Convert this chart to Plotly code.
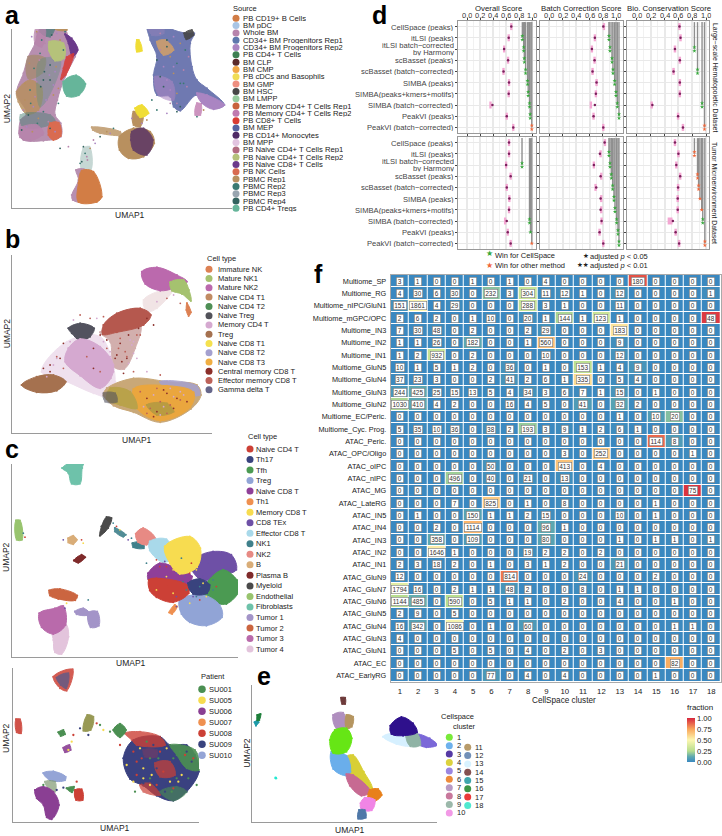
import plotly.graph_objects as go

W, H = 722, 836
FONT = "Liberation Sans"

# ---------- panel a ----------
A_LEGEND = ["PB CD19+ B Cells","BM pDC","Whole BM","CD34+ BM Progenitors Rep1","CD34+ BM Progenitors Rep2","PB CD4+ T Cells","BM CLP","BM CMP","PB cDCs and Basophils","BM GMP","BM HSC","BM LMPP","PB Memory CD4+ T Cells Rep1","PB Memory CD4+ T Cells Rep2","PB CD8+ T Cells","BM MEP","PB CD14+ Monocytes","BM MPP","PB Naive CD4+ T Cells Rep1","PB Naive CD4+ T Cells Rep2","PB Naive CD8+ T Cells","PB NK Cells","PBMC Rep1","PBMC Rep2","PBMC Rep3","PBMC Rep4","PB CD4+ Tregs"]
A_COLORS = ["#d27d45","#a9c5e4","#b784ac","#5e78ad","#aa85c2","#3e7f52","#5b2a2a","#f0a646","#f0dd55","#ee8f80","#474747","#96cb9d","#c8623c","#c07ab0","#d93b33","#56619f","#4f2a66","#e2c4e0","#b26b80","#b5c27a","#6b3a8a","#d96b50","#b8905f","#3a7a72","#98a5b0","#33635f","#66b59a"]
A_BODY = [(112,100),(130,70),(160,55),(195,70),(200,100),(232,145),(225,170),(195,230),(172,300),(165,345),(182,370),(182,410),(130,422),(70,420),(58,400),(62,360),(80,340),(50,280),(70,220),(85,170),(105,130)]
A_TAN1 = [(50,275),(90,240),(125,265),(115,330),(80,342),(55,305)]
A_TAN2 = [(85,170),(135,175),(125,220),(85,235)]
A_TAN3 = [(155,52),(192,60),(200,90),(160,85)]
A_TEAL1 = [(135,62),(165,72),(150,110),(120,95)]
A_TEAL2 = [(62,345),(150,345),(165,365),(100,385),(65,375)]
A_TEAL3 = [(120,180),(180,180),(140,300),(120,320),(110,250)]
A_MAUVE = [(110,80),(135,85),(125,140),(105,130)]
A_PALE = [(148,125),(190,130),(192,175),(165,182),(147,152)]
A_CD8N = [(195,103),(215,115),(233,150),(217,170),(205,130)]
A_CD8R = [(200,172),(220,162),(197,225),(183,238),(190,205)]
A_TREG = [(190,245),(228,226),(256,252),(236,286),(200,288)]
A_MEM = [(150,370),(176,368),(182,408),(160,420),(145,405)]
A_MAUVE2 = [(60,385),(110,375),(130,400),(90,422),(60,412)]
A_CD34 = [(440,60),(480,55),(510,85),(560,100),(582,100),(570,130),(575,200),(590,240),(620,265),(672,315),(640,325),(590,285),(540,332),(520,320),(510,290),(470,285),(460,225),(470,170),(450,120)]
A_CD34P = [(590,280),(620,285),(672,315),(640,328),(605,310)]
A_CD34Q = [(465,230),(515,245),(520,300),(475,285)]
A_CD34R = [(440,62),(480,58),(490,100),(455,105)]
A_CMP = [(470,125),(495,120),(520,150),(490,165)]
A_HSC = [(552,100),(575,90),(580,105),(558,118)]
A_MPP = [(590,310),(602,312),(600,345),(585,345)]
A_YEL1 = [(348,14),(356,16),(370,62),(358,50)]
A_YEL2 = [(410,120),(416,120),(425,152),(410,155)]
A_YEL3 = [(405,325),(425,315),(445,340),(420,352)]
A_TAN4 = [(400,335),(428,345),(420,380),(400,375)]
A_STREAM = [(275,382),(360,395),(365,405),(300,400),(278,390)]
A_MONO = [(358,410),(400,385),(450,395),(462,430),(430,470),(385,475),(358,450)]
A_MONO2 = [(395,395),(430,385),(458,420),(440,465),(400,450),(392,420)]
A_BCELL = [(245,512),(280,515),(305,590),(290,606),(235,606),(235,550)]
A_BMAUVE = [(228,510),(258,510),(240,605),(218,600),(215,585),(235,540)]
A_BRIDGE = [(250,445),(268,440),(272,510),(245,510)]
A_STRAY_X = [240,260,300,330,270,255,262,245,285,320,340,280,250,395,440,470,510,530,425,400,455,205,180,500,610,590,530,540,
             95,110,125,140,155,170,88,102,118,133,148,75,90,105,122,138,160,175,70,85,100,115,130,145,65,80,97,112,128,150,165,75,92,110,130,148,168,120,135,150,165,180,195,140,150,160,175,190,
             480,500,520,540,555,565,470,490,510,530,550,480,500,520,540,560,490,510,530,550,480,500,520]
A_STRAY_Y = [490,470,410,400,445,460,480,485,430,395,385,420,440,355,360,330,310,335,370,385,300,440,445,340,330,350,310,320,
             110,95,120,85,105,100,190,205,180,215,195,250,270,290,260,300,285,310,330,345,320,355,335,365,390,380,395,370,405,385,395,300,310,245,240,225,200,160,130,195,215,120,95,70,240,255,265,150,
             100,120,110,130,150,170,180,200,170,190,210,230,240,220,250,260,260,270,280,250,150,140,200]
A_LAYERS = [(A_BODY,"#b78fb0",1),(A_TAN1,"#b8905f",.85),(A_TAN2,"#a58a6d",.75),(A_TAN3,"#b8905f",1),(A_TEAL1,"#3a7a72",.65),(A_TEAL2,"#4f8278",.5),(A_TEAL3,"#5d8f85",.4),(A_MAUVE,"#b784ac",.8),(A_MAUVE2,"#b784ac",.9),(A_PALE,"#b5c27a",1),(A_CD8N,"#6b3a8a",1),(A_CD8R,"#d93b33",.85),(A_TREG,"#66b59a",1),(A_MEM,"#d96b50",1),
            (A_CD34,"#6f79b1",1),(A_CD34P,"#aa85c2",1),(A_CD34Q,"#aa85c2",.6),(A_CD34R,"#8b80b8",.7),(A_CMP,"#e8a95a",.7),(A_HSC,"#474747",.9),(A_MPP,"#c07ab0",.8),(A_YEL1,"#f0dd35",1),(A_YEL2,"#f0dd35",1),(A_TAN4,"#b8905f",1),(A_YEL3,"#f0dd35",1),(A_STREAM,"#b8905f",.8),(A_BRIDGE,"#5d8f85",.35),(A_MONO,"#b8905f",1),(A_MONO2,"#4f2a66",.75),(A_BMAUVE,"#b78fb0",1),(A_BCELL,"#d27d45",1)]

# ---------- panel b ----------
B_LEGEND = ["Immature NK","Mature NK1","Mature NK2","Naive CD4 T1","Naive CD4 T2","Naive Treg","Memory CD4 T","Treg","Naive CD8 T1","Naive CD8 T2","Naive CD8 T3","Central memory CD8 T","Effector memory CD8 T","Gamma delta T"]
B_COLORS = ["#dd8153","#a5c26f","#bb69ad","#c18b63","#4e8f55","#52525a","#d5a9d0","#a5714f","#f5e14e","#a4a0cf","#f0ae42","#8b2f2a","#bc6158","#66668a"]
B_NK2 = [(425,140),(470,127),(530,150),(560,170),(520,190),(480,197),(435,177)]
B_NK1 = [(510,172),(550,165),(566,195),(572,228),(545,207),(515,197)]
B_NKI = [(560,235),(572,262),(565,273),(558,255)]
B_DIFF0 = [(480,197),(520,190),(470,250),(440,260),(430,225)]
B_EM = [(310,300),(350,265),(420,250),(452,270),(430,300),(350,322),(308,328)]
B_CM = [(300,322),(420,300),(405,370),(372,432),(340,425),(330,350)]
B_TREGN = [(205,310),(240,295),(282,310),(270,335),(240,347),(215,325)]
B_DIFF1 = [(125,440),(200,350),(300,335),(345,470),(325,515),(280,505),(200,470)]
B_MEM = [(205,370),(240,342),(300,365),(340,420),(332,460),(300,490),(240,452),(195,410)]
B_TREG = [(65,480),(110,455),(160,450),(197,470),(170,497),(110,502)]
B_CD8 = [(320,490),(400,460),(500,470),(590,480),(602,510),(572,552),(480,592),(400,562),(340,542),(310,510)]
B_CD8O = [(400,492),(500,482),(580,502),(570,547),(480,587),(412,552)]
B_CD8L = [(480,470),(590,483),(598,510),(560,510),(500,495)]
B_CD8Y = [(330,490),(390,500),(410,550),(360,540),(320,522)]
B_CD8D = [(310,505),(345,505),(350,530),(315,530)]
B_CD8G = [(440,540),(500,535),(520,560),(470,570)]
B_STRAY_X = [150,170,240,280,330,360,380,400,420,440,470,500,350,310,270,130,520,540,190,220,400,370,440,480,460,410,300,
             385,395,375,365,385,355,345,390,410,415,400,380,360,330,320,300,290,310,320,340,260,280,210,190,180,160,170,150,140,
             420,440,460,480,500,520,540,560,430,450,470,490,510,530,550,440,460,480,500,520,540,470,490,510]
B_STRAY_Y = [420,400,270,370,380,340,400,350,330,280,230,220,390,350,280,430,210,235,355,285,440,445,440,450,300,400,440,
             330,360,380,410,415,370,400,345,330,310,385,395,355,395,370,330,280,275,345,440,395,430,350,430,400,420,395,440,455,
             500,520,510,530,505,515,525,530,545,550,560,545,540,520,510,565,575,570,565,550,500,490,495,490]
B_LAYERS = [(B_DIFF0,"#a8505a",.15),(B_CM,"#8b2f2a",.38),(B_DIFF1,"#e0c2de",.5),(B_NK2,"#bb69ad",1),(B_NK1,"#a5c26f",1),(B_NKI,"#dd8153",1),(B_EM,"#b5584e",1),(B_TREGN,"#52525e",1),(B_MEM,"#d5a9d0",1),(B_TREG,"#a5714f",1),(B_CD8,"#c9a878",1),(B_CD8L,"#a4a0cf",.85),(B_CD8O,"#eaa63e",1),(B_CD8Y,"#b9a24a",1),(B_CD8D,"#52525e",.6),(B_CD8G,"#9a9443",.6)]

# ---------- panel c ----------
C_LEGEND = ["Naive CD4 T","Th17","Tfh","Treg","Naive CD8 T","Th1","Memory CD8 T","CD8 TEx","Effector CD8 T","NK1","NK2","B","Plasma B","Myeloid","Endothelial","Fibroblasts","Tumor 1","Tumor 2","Tumor 3","Tumor 4"]
C_COLORS = ["#cc4036","#39437e","#4b9a52","#91a4d6","#8f3f98","#ef9050","#f7dc50","#6e50a6","#a9d9ea","#3f808b","#e78a84","#d9ad78","#7f2a2a","#4a4a4a","#98c46e","#6ec2aa","#a394c8","#cb6540","#b96aab","#e3c4dc"]
C_FIB = [(187,115),(255,85),(247,115),(240,162),(215,162),(205,130)]
C_END = [(48,272),(60,272),(66,330),(50,330)]
C_MYE = [(305,290),(320,262),(335,265),(325,295),(300,318)]
C_B = [(205,325),(220,318),(231,330),(220,343),(205,338)]
C_PLA = [(222,392),(245,375),(256,382),(235,399)]
C_NK1A = [(345,295),(378,315),(370,321),(345,305)]
C_NK1B = [(398,340),(430,338),(432,355),(400,352)]
C_NK2 = [(408,312),(430,295),(466,325),(440,345),(415,337)]
C_EFF = [(450,335),(500,328),(525,380),(490,397),(450,362)]
C_MEM = [(495,350),(570,320),(602,355),(592,412),(540,432),(510,400)]
C_TEX = [(590,385),(640,365),(695,375),(710,420),(660,437),(610,452),(580,425)]
C_NCD8 = [(445,430),(480,400),(540,420),(577,440),(560,467),(480,452),(445,447)]
C_NCD4 = [(447,450),(470,445),(562,465),(567,490),(520,517),(470,502),(450,482)]
C_TFH = [(620,460),(670,420),(712,450),(720,480),(680,522),(630,512),(610,490)]
C_TH17 = [(565,460),(600,447),(630,465),(622,490),(580,492)]
C_TREG = [(540,510),(610,495),(660,525),(667,562),(620,587),(570,577),(545,552)]
C_TH1 = [(525,525),(532,530),(517,552),(508,548)]
C_T2 = [(148,482),(180,477),(232,497),(226,511),(175,507),(150,497)]
C_T4 = [(155,590),(197,582),(206,620),(185,672),(165,667),(160,630)]
C_T3 = [(118,550),(165,535),(190,528),(197,585),(160,612),(125,592)]
C_T1A = [(225,545),(250,535),(268,548),(262,556),(230,553)]
C_T1B = [(265,548),(292,545),(297,587),(272,592)]
C_STRAY_X = [340,350,360,385,395,245,250,190,440,470,610,530,590,500,520,555,70,75,200,195,265,
             480,500,530,550,570,590,610,560,540,520,580,600,505,470,495,545,575,600,625,640,600,570,530,640,650,620]
C_STRAY_Y = [280,290,300,330,325,330,340,330,400,390,460,500,500,410,420,440,310,322,520,535,510,
             410,440,430,455,430,420,440,480,500,490,500,470,470,480,395,385,400,380,400,450,510,520,530,480,470,500]
C_LAYERS = [(C_FIB,"#6ec2aa",1),(C_END,"#98c46e",1),(C_MYE,"#4a4a4a",1),(C_B,"#d9ad78",1),(C_PLA,"#7f2a2a",1),(C_NK1A,"#3f808b",.9),(C_NK1B,"#3f808b",1),(C_NK2,"#e78a84",1),(C_EFF,"#a9d9ea",1),(C_TEX,"#6e50a6",1),(C_TFH,"#4b9a52",1),(C_TREG,"#91a4d6",1),(C_NCD8,"#8f3f98",1),(C_NCD4,"#cc4036",1),(C_MEM,"#f7dc50",1),(C_TH17,"#39437e",1),(C_TH1,"#ef9050",1),(C_T2,"#cb6540",1),(C_T4,"#e3c4dc",1),(C_T3,"#b96aab",1),(C_T1A,"#a394c8",1),(C_T1B,"#a394c8",1)]

# ---------- patient panel ----------
P_LEGEND = ["SU001","SU005","SU006","SU007","SU008","SU009","SU010"]
P_COLORS = ["#4b8f52","#f7dc50","#8a3f93","#ef9050","#cc4036","#39437e","#94a4d6"]
P_BIG = [(370,370),(400,315),(480,305),(510,330),(560,330),(585,360),(597,410),(560,470),(520,497),(470,482),(430,452),(390,432)]
P_RED1 = [(375,295),(420,290),(480,305),(495,330),(410,330),(395,315)]
P_RED2 = [(465,385),(510,380),(525,420),(480,425)]
P_RED3 = [(420,450),(450,445),(480,480),(430,470)]
P_RED4 = [(430,345),(470,345),(470,365),(435,365)]
P_GRN1 = [(510,330),(585,345),(597,405),(560,400),(530,360)]
P_GRN2 = [(480,470),(530,455),(560,470),(520,497)]
P_GRN3 = [(340,285),(360,266),(378,285),(360,307)]
P_TOP = [(160,125),(218,103),(200,167),(180,160)]
P_TOPB = [(170,128),(205,115),(198,160),(182,150)]
P_LEFT = [(48,253),(60,253),(63,295),(50,292)]
P_G4 = [(175,292),(190,285),(195,298),(182,303)]
P_M4 = [(190,338),(208,330),(212,345),(195,352)]
P_MIX = [(262,240),(280,245),(272,285),(250,287)]
P_L = [(130,414),(160,409),(197,425),(195,436),(150,436)]
P_PUR = [(105,465),(130,455),(160,470),(177,510),(155,553),(140,547),(130,510),(110,490)]
P_G5 = [(200,460),(222,455),(216,472)]
P_R5 = [(225,465),(245,463),(248,495),(228,495)]
P_G6 = [(135,440),(165,440),(165,470),(145,460)]
P_STRAY_X = [290,310,330,240,220,215,130,190,360,400,405,430,600,600,590,170,230,205,300,265,
             400,420,440,460,480,500,520,540,410,430,450,470,490,510,530,390,410,430,450,500,520,545,565,575,555,535,515,495,470,450,540,560,580,455,475,400,425,380]
P_STRAY_Y = [265,285,290,280,300,320,450,458,330,440,470,445,400,420,450,465,440,345,270,300,
             350,340,320,330,350,340,370,390,380,400,370,400,410,440,430,410,420,430,430,450,460,420,430,380,360,440,470,470,450,450,350,350,370,420,370,360,370,390]
P_LAYERS = [(P_BIG,"#3a4180",1),(P_GRN1,"#4b8f52",.9),(P_GRN2,"#4b8f52",.6),(P_RED1,"#cc4036",.8),(P_RED2,"#cc4036",.7),(P_RED3,"#cc4036",.7),(P_RED4,"#7f3a60",.55),(P_GRN3,"#4b8f52",1),(P_TOP,"#cc4036",.85),(P_TOPB,"#4d5a90",.7),(P_LEFT,"#cc4036",.9),(P_G4,"#4b8f52",1),(P_M4,"#8a3f93",.9),(P_MIX,"#8d8f43",.9),(P_L,"#94a4d6",1),(P_G6,"#7f9a72",.7),(P_PUR,"#8a3f93",1),(P_G5,"#4b8f52",1),(P_R5,"#cc4036",1)]

# ---------- panel e ----------
E_LEGEND = [str(i) for i in range(1,19)]
E_COLORS = ["#79ea3a","#6eb1ec","#563aa4","#dcd23e","#9b86e0","#ee8b3a","#b89ac4","#c8789c","#9bb8aa","#f29ae6","#b89b6a","#7290b8","#d8f2ff","#845050","#3fa6ad","#3d9547","#ea3a3a","#4fe8d0"]
E_C1 = [(1005,285),(1040,280),(1056,310),(1040,350),(1000,354),(990,315)]
E_C7 = [(1000,240),(1030,233),(1037,275),(1010,281)]
E_C11 = [(1040,240),(1060,245),(1056,275),(1040,281)]
E_C14 = [(1024,188),(1036,188),(1036,207),(1027,207)]
E_C2 = [(995,350),(1040,362),(1052,410),(1040,422),(1000,402)]
E_C4 = [(1040,365),(1060,360),(1092,410),(1117,460),(1100,467),(1060,430)]
E_C8 = [(1040,418),(1060,420),(1112,470),(1085,482),(1050,452)]
E_C6 = [(1110,465),(1135,462),(1146,480),(1125,498),(1105,485)]
E_C10 = [(1095,488),(1125,495),(1116,526),(1085,523),(1082,505)]
E_C12 = [(1078,525),(1095,525),(1098,548),(1075,551)]
E_C13 = [(1150,305),(1175,295),(1222,305),(1232,332),(1190,327)]
E_C9 = [(1220,305),(1250,293),(1262,330),(1232,334)]
E_C5 = [(1250,298),(1290,310),(1313,330),(1280,337),(1255,327)]
E_C3 = [(1172,272),(1205,246),(1240,265),(1252,292),(1210,302),(1175,297)]
E_C15 = [(764,262),(773,255),(776,262),(768,272)]
E_C16 = [(772,240),(782,237),(778,255),(772,256)]
E_C17_X, E_C17_Y = [878,879], [136,137]
E_C18_X, E_C18_Y = [827,828], [428,430]
E_LAYERS = [(E_C14,"#6e3b3b",1),(E_C7,"#b08fbf",1),(E_C11,"#b59560",1),(E_C4,"#d8cf35",1),(E_C2,"#6aaeeb",1),(E_C1,"#66e615",1),(E_C8,"#c76a92",1),(E_C6,"#e8801a",1),(E_C10,"#f085e5",1),(E_C12,"#4f78a8",1),(E_C13,"#d6f0ff",1),(E_C5,"#7b68d8",1),(E_C9,"#8fb3a5",1),(E_C3,"#2e108c",1),(E_C15,"#1e9aa8",1),(E_C16,"#1e7f3a",1)]

# ---------- panel d ----------
METHODS = ["CellSpace (peaks)","itLSI (peaks)","itLSI batch\u2212corrected|by Harmony","scBasset (peaks)","scBasset (batch\u2212corrected)","SIMBA (peaks)","SIMBA(peaks+kmers+motifs)","SIMBA (batch\u2212corrected)","PeakVI (peaks)","PeakVI (batch\u2212corrected)"]
D_COL_TITLES = ["Overall Score","Batch Correction Score","Bio. Conservation Score"]
D_TICKS = [0,0.2,0.4,0.6,0.8,1.0]
H_OVERALL = [.68,.64,.57,.63,.56,.645,.64,.39,.61,.71]
H_BATCH = [.805,.68,.635,.675,.645,.705,.695,.68,.66,.805]
H_BIO = [.615,.63,.55,.62,.53,.62,.62,.225,.595,.665]
T_OVERALL = [.645,.645,.60,.67,.61,.65,.645,.61,.625,.67]
T_BATCH = [.825,.755,.665,.765,.70,.765,.765,.78,.75,.805]
T_BIO = [.55,.60,.57,.625,.595,.59,.59,.52,.56,.61]
H_OVERALL_PINK = [.68,.64,.57,.63,.56,.645,.64,.36,.61,.71]
H_BATCH_PINK = [.815,.68,.635,.675,.645,.705,.695,.62,.66,.805]
H_BIO_PINK = [.615,.63,.55,.62,.53,.62,.62,.215,.595,.665]
T_OVERALL_PINK = [.645,.645,.60,.67,.61,.65,.645,.585,.625,.67]
T_BATCH_PINK = [.83,.765,.665,.775,.69,.775,.775,.78,.75,.805]
T_BIO_PINK = [.55,.60,.57,.625,.595,.59,.59,.48,.56,.61]
H_OVERALL_STAR = [None,.85,.87,.88,.90,.93,.94,.96,.97,.995]
H_BATCH_STAR = [None,.89,.905,.935,.95,.975,.995,1.015,1.04,None]
H_BIO_STAR = [None,None,.83,None,.875,None,None,.94,None,.975]
T_OVERALL_STAR = [None,None,.845,None,None,None,None,.96,.975,.995]
T_BATCH_STAR = [None,.89,.905,.925,.945,.965,.98,1.005,1.025,1.04]
T_BIO_STAR = [None,.83,None,.875,.89,.91,.935,.95,None,.98]
H_OVERALL_WIN = "xggggggggo"
H_BATCH_WIN = "xggggggggx"
H_BIO_WIN = "xxgxgxxgxo"
T_OVERALL_WIN = "xxgxxxxggo"
T_BATCH_WIN = "xggggggggg"
T_BIO_WIN = "xoxoooogxo"
T_OVERALL_N = [0,0,2,0,0,0,0,2,1,1]
T_BIO_N = [0,2,0,2,2,1,1,2,0,2]

# ---------- panel f ----------
HM_ROWS = ["Multiome_SP","Multiome_RG","Multiome_nIPC/GluN1","Multiome_mGPC/OPC","Multiome_IN3","Multiome_IN2","Multiome_IN1","Multiome_GluN5","Multiome_GluN4","Multiome_GluN3","Multiome_GluN2","Multiome_EC/Peric.","Multiome_Cyc. Prog.","ATAC_Peric.","ATAC_OPC/Oligo","ATAC_oIPC","ATAC_nIPC","ATAC_MG","ATAC_LateRG","ATAC_IN5","ATAC_IN4","ATAC_IN3","ATAC_IN2","ATAC_IN1","ATAC_GluN9","ATAC_GluN7","ATAC_GluN6","ATAC_GluN5","ATAC_GluN4","ATAC_GluN3","ATAC_GluN1","ATAC_EC","ATAC_EarlyRG"]
HM_COLS = list(range(1,19))
HM_COUNTS = [
[3,1,0,0,1,0,1,0,4,0,0,0,0,180,0,0,0,0],
[4,30,6,30,0,232,3,304,11,12,1,0,12,0,0,0,0,1],
[151,1861,4,29,0,0,0,288,3,1,0,0,11,0,0,0,0,0],
[2,6,2,0,1,10,0,20,1,144,1,123,1,0,0,0,0,48],
[7,30,48,0,2,0,0,2,29,0,0,0,183,0,0,0,0,0],
[1,1,26,0,182,0,0,1,560,0,0,0,9,0,0,0,0,0],
[1,2,932,0,2,0,0,0,10,0,0,0,12,0,0,0,0,0],
[10,1,5,1,2,0,36,0,1,0,153,1,4,9,0,0,0,0],
[37,23,3,0,0,2,41,2,6,1,335,0,5,4,0,0,0,0],
[244,425,25,15,13,5,4,34,3,6,7,1,15,0,1,0,0,0],
[1030,410,4,2,0,0,16,4,5,0,41,0,32,2,0,0,0,0],
[0,0,0,0,0,0,0,0,0,0,0,0,1,0,10,20,0,0],
[5,35,10,36,0,38,2,193,3,9,1,2,6,1,0,0,0,0],
[0,0,0,0,0,0,0,0,0,0,0,0,0,0,114,8,0,0],
[0,0,0,0,0,0,0,0,0,3,0,252,0,0,0,0,1,0],
[0,0,0,0,0,50,0,0,0,413,0,4,0,0,0,0,0,0],
[0,0,0,496,0,40,0,21,0,13,0,0,0,0,0,0,0,0],
[0,0,0,0,0,0,0,0,0,0,0,0,0,0,0,0,75,0],
[0,0,0,7,0,825,0,1,0,8,0,0,0,0,1,0,0,0],
[0,1,0,0,150,1,1,2,15,0,0,0,10,0,1,0,0,0],
[0,0,2,0,1114,0,0,0,96,1,0,0,0,0,0,0,0,0],
[0,0,358,0,109,0,0,0,80,0,0,0,1,0,1,1,0,1],
[0,0,1646,1,0,0,0,19,2,2,0,2,0,0,0,0,0,0],
[2,3,18,2,0,1,0,3,1,2,0,0,21,0,0,0,0,0],
[12,0,0,0,0,0,814,0,0,0,24,0,0,0,2,0,0,0],
[1794,16,0,2,1,1,48,2,0,0,8,0,1,1,0,0,0,0],
[1144,485,0,590,0,5,1,1,0,2,0,0,4,0,0,1,0,0],
[2,9,0,5,0,0,0,0,0,0,0,0,0,0,0,0,0,0],
[16,342,0,1086,0,1,0,60,0,0,0,0,0,0,0,1,1,0],
[4,0,0,0,0,0,0,0,0,0,0,0,0,0,0,0,0,0],
[0,0,0,5,0,5,0,4,0,2,0,3,0,0,0,0,0,0],
[0,0,0,0,0,0,0,0,0,0,0,0,0,0,0,82,0,0],
[0,0,0,0,0,77,0,4,0,4,0,0,0,0,1,0,0,0],
]
HM_SCALE = [[0,"#3a88c0"],[.12,"#5da8b0"],[.25,"#b6dd8e"],[.5,"#fdf7b0"],[.75,"#f9a65a"],[1,"#d7263d"]]

# ---------- helpers ----------
fig = go.Figure()
annots = []
ax_n = [0]

def X(p): return p / W
def Y(p): return 1 - p / H

def note(x, y, text, size=7.5, color="#222", xa="left", ya="middle", angle=0, font=FONT, bold=False, **kw):
    if bold: text = f"<b>{text}</b>"
    annots.append(dict(xref="paper", yref="paper", x=X(x), y=Y(y), text=text, showarrow=False, xanchor=xa, yanchor=ya, textangle=angle, font=dict(family=font, size=size, color=color), borderpad=0, **kw))

def new_axes(x0, x1, y0, y1, xrange, yrange, xkw=None, ykw=None):
    ax_n[0] += 1
    n = ax_n[0]
    s = "" if n == 1 else str(n)
    xd = dict(domain=[X(x0), X(x1)], range=xrange, anchor=f"y{s}", showgrid=False, zeroline=False, showticklabels=False, ticks="")
    yd = dict(domain=[Y(y1), Y(y0)], range=yrange, anchor=f"x{s}", showgrid=False, zeroline=False, showticklabels=False, ticks="")
    xd.update(xkw or {}); yd.update(ykw or {})
    fig.update_layout(**{f"xaxis{s}": xd, f"yaxis{s}": yd})
    return f"x{s}", f"y{s}"

SPINE = dict(showline=True, linecolor="#9a9a9a", linewidth=1.2)

def umap_panel(box, xr, yr, layers, stray=None, stray_colors=None, stray_size=1.8):
    xa, ya = new_axes(box[0], box[1], box[2], box[3], xr, yr, SPINE, SPINE)
    for pts, col, op in layers:
        xs = [p[0] for p in pts] + [pts[0][0]]
        ys = [p[1] for p in pts] + [pts[0][1]]
        fig.add_trace(go.Scatter(x=xs, y=ys, xaxis=xa, yaxis=ya, mode="lines+markers", fill="toself", fillcolor=col, opacity=op,
                                 line=dict(width=1, color=col, shape="spline", smoothing=1), marker=dict(size=2, color=col),
                                 cliponaxis=False, hoverinfo="skip", showlegend=False))
    if stray:
        fig.add_trace(go.Scatter(x=stray[0], y=stray[1], xaxis=xa, yaxis=ya, mode="markers", cliponaxis=False, hoverinfo="skip", showlegend=False,
                                 marker=dict(size=stray_size, color=[stray_colors[i % len(stray_colors)] for i in range(len(stray[0]))])))
    return xa, ya

# overlay axes in figure units for legend dots, drawn above every panel
OX, OY = "x60", "y60"
fig.update_layout(xaxis60=dict(domain=[0,1], range=[0,W], anchor="y60", visible=False), yaxis60=dict(domain=[0,1], range=[H,0], anchor="x60", visible=False))

def legend(labels, colors, dotx, textx, y0, step, size=7.5, msize=7):
    ys = [y0 + i * step for i in range(len(labels))]
    fig.add_trace(go.Scatter(x=[dotx]*len(labels), y=ys, xaxis=OX, yaxis=OY, mode="markers", marker=dict(size=msize, color=colors), hoverinfo="skip", showlegend=False))
    for l, y in zip(labels, ys):
        if step < 8:
            note(textx, y, l, size=size, height=max(step - 0.5, 5))
        else:
            note(textx, y, l, size=size)

# ---------- UMAP panels ----------
umap_panel((12, 232, 29, 208.3), [36, 695], [625, 87], A_LAYERS, (A_STRAY_X, A_STRAY_Y), ["#3a7a72","#b784ac","#33635f","#aa85c2","#b8905f"])
umap_panel((12, 212, 255, 433.3), [36, 635], [625, 90], B_LAYERS, (B_STRAY_X, B_STRAY_Y), ["#8b2f2a","#d5a9d0","#bc6158"])
umap_panel((12, 238, 464, 656.7), [36, 715], [680, 103], C_LAYERS, (C_STRAY_X, C_STRAY_Y), ["#3f808b","#cc4036","#f7dc50","#6e50a6"])
umap_panel((12.7, 199, 668.3, 821.7), [38, 597], [560, 100], P_LAYERS, (P_STRAY_X, P_STRAY_Y), ["#cc4036","#f7dc50","#4b8f52","#39437e"], stray_size=2.3)
xe, ye = umap_panel((252.3, 437, 685, 821.7), [757, 1312], [560, 150], E_LAYERS)
fig.add_trace(go.Scatter(x=E_C17_X, y=E_C17_Y, xaxis=xe, yaxis=ye, mode="markers", marker=dict(size=2.5, color="#ee1111"), cliponaxis=False, hoverinfo="skip", showlegend=False))
fig.add_trace(go.Scatter(x=E_C18_X, y=E_C18_Y, xaxis=xe, yaxis=ye, mode="markers", marker=dict(size=2.5, color="#22e8d0"), cliponaxis=False, hoverinfo="skip", showlegend=False))

legend(A_LEGEND, A_COLORS, 236, 242, 18.3, 7.31, size=7.7)
note(232.5, 8.3, "Source")
legend(B_LEGEND, B_COLORS, 209, 216.5, 269.3, 9.27)
note(206, 258, "Cell type")
legend(C_LEGEND, C_COLORS, 250, 255, 449, 10.53)
note(247, 436.7, "Cell type")
legend(P_LEGEND, P_COLORS, 202, 208, 689.3, 11, size=7.5, msize=7.5)
note(200, 676.7, "Patient")
legend(E_LEGEND[:10], E_COLORS[:10], 449.3, 456, 737.3, 8.4)
legend(E_LEGEND[10:], E_COLORS[10:], 467.7, 473.5, 747.3, 8.3)
note(440, 716.7, "Cellspace")
note(451.5, 726.7, "cluster")

for (x, y, a) in [(130,215,0),(7.3,108,-90),(137,440,0),(7.3,333,-90),(131,663,0),(6,557,-90),(115,827.7,0),(6,738,-90),(350,830,0),(246.7,753,-90)]:
    note(x, y, "UMAP1" if a == 0 else "UMAP2", size=8.5, xa="center", angle=a)

for (x, y, t) in [(4,15,"a"),(4,239,"b"),(4,449,"c"),(371,15,"d"),(256,676,"e"),(313,274,"f")]:
    note(x, y, t, size=25, color="#000", bold=True)

# ---------- panel d ----------
PINK = "#f3a7d2"
DOT = "#7a1f5c"
GREEN = "#35a83a"
ORANGE = "#f0673a"
D_X = [(458, 536, [-0.14, 1.06]), (540, 623, [-0.14, 1.10]), (627, 709, [-0.14, 1.04])]
D_Y = [(21, 133), (137, 249)]
D_DATA = [
 [(H_OVERALL,H_OVERALL_PINK,H_OVERALL_STAR,H_OVERALL_WIN,None),(H_BATCH,H_BATCH_PINK,H_BATCH_STAR,H_BATCH_WIN,None),(H_BIO,H_BIO_PINK,H_BIO_STAR,H_BIO_WIN,None)],
 [(T_OVERALL,T_OVERALL_PINK,T_OVERALL_STAR,T_OVERALL_WIN,T_OVERALL_N),(T_BATCH,T_BATCH_PINK,T_BATCH_STAR,T_BATCH_WIN,None),(T_BIO,T_BIO_PINK,T_BIO_STAR,T_BIO_WIN,T_BIO_N)],
]
rows = list(range(10))
for r, (y0, y1) in enumerate(D_Y):
    for c, (x0, x1, xr) in enumerate(D_X):
        xkw = dict(side="top", tickmode="array", tickvals=D_TICKS, showticklabels=False, ticks="outside", ticklen=2, tickcolor="#444", tickwidth=.8,
                   showgrid=True, gridcolor="#e9e9e9", gridwidth=1.6, minor=dict(showgrid=True, gridcolor="#f1f1f1", gridwidth=.8, tickvals=[.1,.3,.5,.7,.9]),
                   showline=True, linecolor="#999", linewidth=1, mirror=True)
        ykw = dict(tickmode="array", tickvals=rows, showticklabels=False, ticks="outside", ticklen=2, tickcolor="#444", tickwidth=.8,
                   showgrid=True, gridcolor="#e9e9e9", gridwidth=1.2,
                   showline=True, linecolor="#999", linewidth=1, mirror=True)
        xa, ya = new_axes(x0, x1, y0, y1, xr, [9.5, -0.5], xkw, ykw)
        vals, pink, star, win, nstar = D_DATA[r][c]
        for i in rows:
            if star[i] is not None:
                fig.add_trace(go.Scatter(x=[star[i], star[i]], y=[-0.4, i], xaxis=xa, yaxis=ya, mode="lines", line=dict(color="#8f8f8f", width=1.4), hoverinfo="skip", showlegend=False, cliponaxis=False))
        for i in rows:
            hw = 0.035 if (r == 1 and c == 2 and i == 7) else 0.018
            fig.add_trace(go.Scatter(x=[pink[i]-hw, pink[i]+hw], y=[i, i], xaxis=xa, yaxis=ya, mode="lines", line=dict(color=PINK, width=7), hoverinfo="skip", showlegend=False))
        fig.add_trace(go.Scatter(x=vals, y=rows, xaxis=xa, yaxis=ya, mode="markers", marker=dict(size=2.5, color=DOT), hoverinfo="skip", showlegend=False))
        sx, sy, sc = [], [], []
        for i in rows:
            if star[i] is None: continue
            n = nstar[i] if nstar else 2
            for off in ([-0.17, 0.17] if n == 2 else [0]):
                sx.append(star[i]); sy.append(i + off); sc.append(ORANGE if win[i] == "o" else GREEN)
        fig.add_trace(go.Scatter(x=sx, y=sy, xaxis=xa, yaxis=ya, mode="markers", marker=dict(size=3.2, symbol="star", color=sc), hoverinfo="skip", showlegend=False, cliponaxis=False))
        if r == 0:
            for t in D_TICKS:
                note(x0 + (t - xr[0]) / (xr[1] - xr[0]) * (x1 - x0), 15.7, f"{t:.1f}", size=7.5, xa="center", color="#333", height=7)
        if c == 0:
            for i, m in enumerate(METHODS):
                ypx = y0 + (i + .5) / 10 * (y1 - y0)
                parts = m.split("|")
                if len(parts) == 1:
                    note(455, ypx, m, size=7.6, xa="right", color="#444", height=8)
                else:
                    note(455, ypx - 3.6, parts[0], size=7.6, xa="right", color="#444", height=6.5)
                    note(455, ypx + 3.4, parts[1], size=7.6, xa="right", color="#444", height=6.5)

for (x, t) in [(498, D_COL_TITLES[0]), (581, D_COL_TITLES[1]), (669, D_COL_TITLES[2])]:
    note(x, 8, t, size=7.8, xa="center", color="#222", height=7)
note(715, 77, "Large\u2212scale Hematopoietic Dataset", size=6.9, xa="center", angle=90)
note(715, 193, "Tumor Microenvironment Dataset", size=6.9, xa="center", angle=90)
note(485, 254, "\u2605", size=8, color=GREEN, font="DejaVu Sans")
note(485, 265, "\u2605", size=8, color=ORANGE, font="DejaVu Sans")
note(494, 255.5, "Win for CellSpace", size=7.5)
note(494, 265.5, "Win for other method", size=7.5)
note(581.5, 256, "\u2605", size=6.5, color="#222", font="DejaVu Sans")
note(589, 256, "adjusted <i>p</i> &lt; 0.05", size=7.5)
note(576, 265.5, "\u2605\u2605", size=6.5, color="#222", font="DejaVu Sans")
note(589, 265.5, "adjusted <i>p</i> &lt; 0.01", size=7.5)

# ---------- panel f ----------
col_tot = [sum(r[j] for r in HM_COUNTS) or 1 for j in range(18)]
HM_Z = [[v / col_tot[j] for j, v in enumerate(r)] for r in HM_COUNTS]
xkw = dict(tickmode="array", tickvals=HM_COLS, ticktext=[str(c) for c in HM_COLS], showticklabels=True, ticks="", tickfont=dict(family=FONT, size=7.8, color="#222"), ticklabelstandoff=2,
           showline=True, linecolor="#aaa", linewidth=1, mirror=True)
ykw = dict(type="category", categoryorder="array", categoryarray=HM_ROWS[::-1], showticklabels=True, ticks="", tickfont=dict(family=FONT, size=7.3, color="#222"), ticklabelstandoff=2,
           showline=True, linecolor="#aaa", linewidth=1, mirror=True)
xa, ya = new_axes(390.7, 720.5, 275, 681.7, [0.5, 18.5], [-0.5, 32.5], xkw, ykw)
fig.add_trace(go.Heatmap(z=HM_Z, x=HM_COLS, y=HM_ROWS, xaxis=xa, yaxis=ya, zmin=0, zmax=1, colorscale=HM_SCALE, xgap=1, ygap=1, hoverinfo="skip",
                         colorbar=dict(thickness=8, len=44, lenmode="pixels", x=X(686.7), xanchor="left", y=Y(718), yanchor="top", outlinewidth=0, ticks="", tickvals=[0,.25,.5,.75,1], ticktext=["0.00","0.25","0.50","0.75","1.00"], tickfont=dict(family=FONT, size=7.6, color="#222"), xpad=0, ypad=0)))
BOX_W = {1: 5.5, 2: 7.5, 3: 11.5, 4: 15.5}
for ri, row in enumerate(HM_ROWS):
    for ci, col in enumerate(HM_COLS):
        txt = str(HM_COUNTS[ri][ci])
        annots.append(dict(xref=xa, yref=ya, x=col, y=row, text=txt, showarrow=False, bgcolor="white", bordercolor="#7c7c7c", borderwidth=.6, borderpad=.5, width=BOX_W[len(txt)], height=6.5, align="center", valign="middle",
                           font=dict(family=FONT, size=6.5, color="#333")))
note(563.5, 700.5, "CellSpace cluster", size=8.2, xa="center")
note(686, 707.7, "fraction", size=8)

fig.update_layout(width=W, height=H, margin=dict(l=0, r=0, t=0, b=0), paper_bgcolor="white", plot_bgcolor="rgba(0,0,0,0)", showlegend=False, annotations=annots, font=dict(family=FONT))
fig.write_html("out.html", config={"displayModeBar": False}, post_script="document.body.style.margin='0';document.body.style.overflow='hidden';")
